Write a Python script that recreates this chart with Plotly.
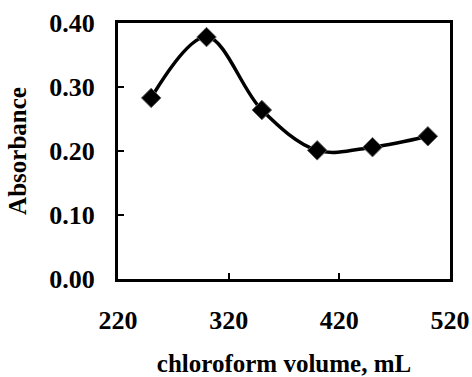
import plotly.graph_objects as go

volume = [250, 300, 350, 400, 450, 500]
absorbance = [0.283, 0.378, 0.264, 0.201, 0.206, 0.223]
x_ticks = [220, 320, 420, 520]
y_ticks = [0.0, 0.1, 0.2, 0.3, 0.4]
y_tick_labels = ["0.00", "0.10", "0.20", "0.30", "0.40"]

FONT = "Liberation Serif"

fig = go.Figure()
fig.add_trace(go.Scatter(
    x=volume, y=absorbance, mode="lines+markers",
    line=dict(color="black", width=3.5, shape="spline", smoothing=1),
    marker=dict(symbol="diamond", size=15, color="black",
                line=dict(color="#606060", width=1)),
    showlegend=False,
))

fig.update_layout(
    width=472, height=377,
    margin=dict(l=118, r=22, t=23, b=98, autoexpand=False),
    paper_bgcolor="white", plot_bgcolor="white",
    font=dict(family=FONT, color="black", size=24),
)
fig.update_xaxes(
    range=[220, 520], tickvals=x_ticks, ticktext=[str(v) for v in x_ticks],
    showgrid=False, zeroline=False, automargin=False,
    showline=True, linecolor="black", linewidth=3, mirror=True,
    ticks="inside", ticklen=6, tickwidth=2, tickcolor="black",
    tickfont=dict(family=FONT, size=26, color="black", weight="bold"),
    ticklabelstandoff=16,
    title=dict(text="<b>chloroform volume, mL</b>",
               font=dict(family=FONT, size=25, color="black"), standoff=44),
)
fig.update_yaxes(
    range=[0, 0.4], tickvals=y_ticks, ticktext=y_tick_labels,
    showgrid=False, zeroline=False, automargin=False,
    showline=True, linecolor="black", linewidth=3, mirror=True,
    ticks="inside", ticklen=6, tickwidth=2, tickcolor="black",
    tickfont=dict(family=FONT, size=26, color="black", weight="bold"),
    ticklabelstandoff=15,
    title=dict(text="<b>Absorbance</b>",
               font=dict(family=FONT, size=25, color="black"), standoff=16),
)

fig.write_html("out.html")
